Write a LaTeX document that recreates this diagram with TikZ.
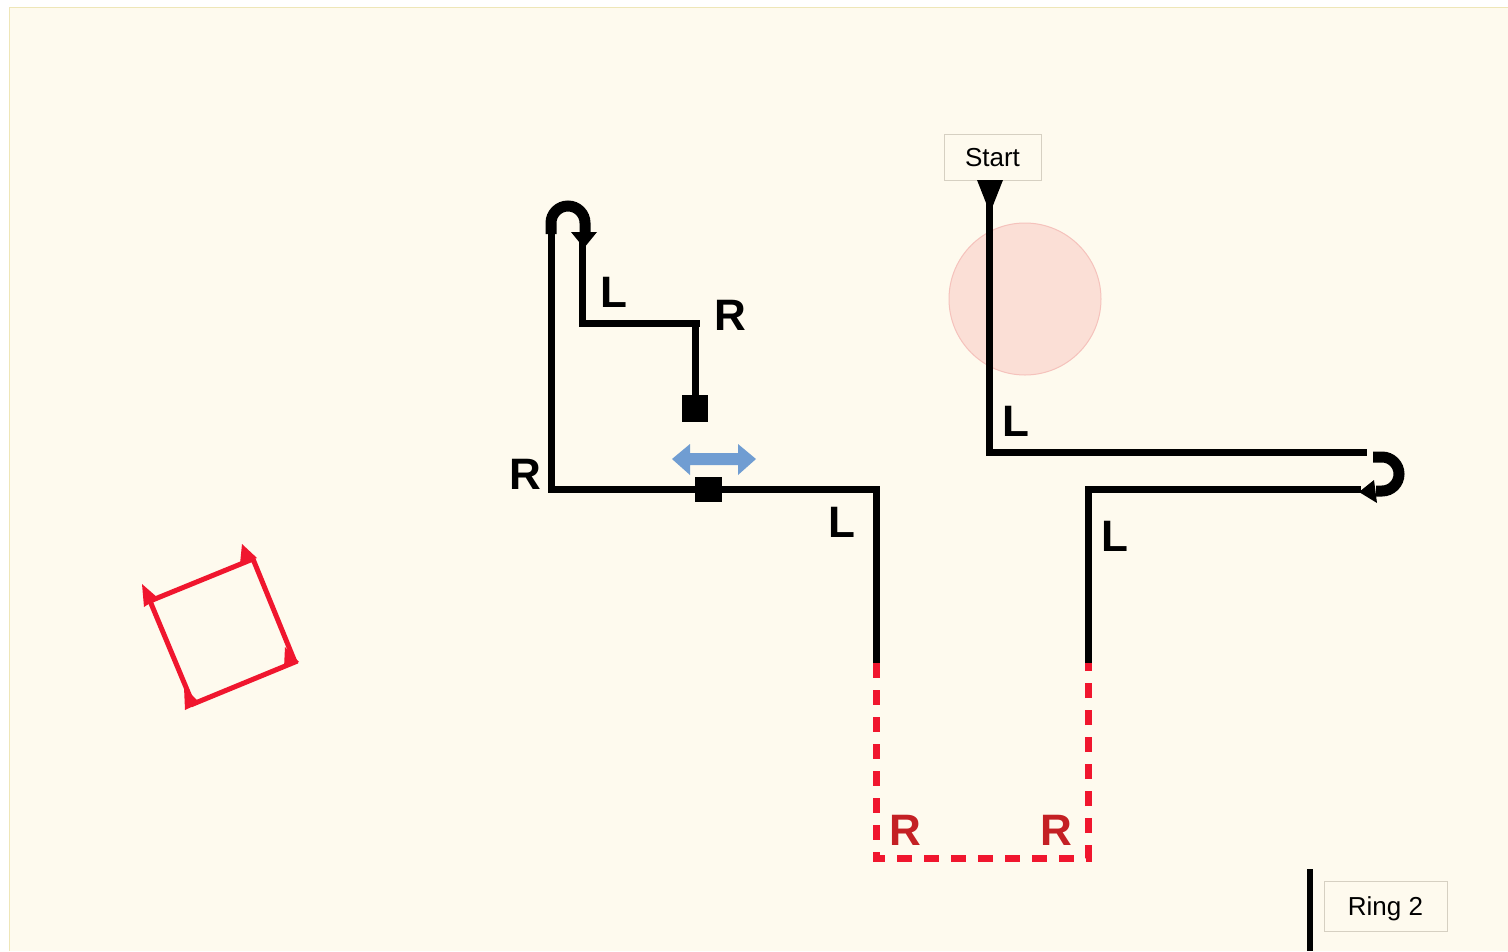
\documentclass[tikz,border=0pt]{standalone}
\usepackage{fontspec}
\setmainfont{Liberation Sans}
\usetikzlibrary{arrows.meta}
\definecolor{paper}{RGB}{254,250,238}
\definecolor{paperedge}{RGB}{238,230,184}
\definecolor{routered}{RGB}{240,22,46}
\definecolor{labelred}{RGB}{196,32,36}
\definecolor{slideblue}{RGB}{112,157,210}
\definecolor{zonefill}{RGB}{251,223,214}
\definecolor{zoneedge}{RGB}{245,194,188}
\definecolor{boxedge}{RGB}{214,208,194}

\begin{document}
\begin{tikzpicture}[x=1pt,y=-1pt,
  track/.style={line width=7pt, black, line join=miter},
  dashtrack/.style={line width=7pt, routered, dash pattern=on 15pt off 12pt},
  uturn/.style={line width=11pt, black},
  turnlbl/.style={font=\fontsize{44}{44}\selectfont\bfseries, inner sep=0pt, text depth=0pt},
  redlbl/.style={turnlbl, text=labelred},
  tagbox/.style={draw=boxedge, line width=1pt, fill=paper, inner sep=0pt,
    font=\fontsize{26}{26}\selectfont, text depth=0pt},
  square/.style={fill=black}
]
\useasboundingbox (0,0) rectangle (1508,951);
\clip (0,0) rectangle (1508,951);

% sheet
\fill[white] (0,0) rectangle (1508,951);
\fill[paper] (9,7) rectangle (1508,951);
\draw[paperedge, line width=1pt] (9,951) -- (9,7) -- (1508,7);

% shaded zone near the start
\draw[zoneedge, fill=zonefill, line width=1pt] (1025,299) circle[radius=76];

% path corners
\coordinate (a1) at (551,226);
\coordinate (a2) at (551,489);
\coordinate (a3) at (876,489);
\coordinate (a4) at (876,663);
\coordinate (b1) at (876,858);
\coordinate (b2) at (1088,858);
\coordinate (b3) at (1088,663);
\coordinate (c1) at (1088,489);
\coordinate (c2) at (1361,489);
\coordinate (s1) at (989,200);
\coordinate (s2) at (989,452);
\coordinate (s3) at (1367,452);
\coordinate (i1) at (582,236);
\coordinate (i2) at (582,323);
\coordinate (i3) at (700,323);
\coordinate (j1) at (695,323);
\coordinate (j2) at (695,400);

% main tracks
\draw[track] (a1) -- (a2) -- (a3) -- (a4);
\draw[dashtrack] (a4) -- (b1) -- (b2) -- (b3);
\draw[track] (b3) -- (c1) -- (c2);
\draw[track] (s1) -- (s2) -- (s3);
\draw[track] (i1) -- (i2) -- (i3);
\draw[track] (j1) -- (j2);

% end blocks
\fill[square] (682,395) rectangle (708,422);
\fill[square] (695,477) rectangle (722,502);

% sliding arrow
\fill[slideblue] (672,459) -- (690,444) -- (690,453) -- (738,453) -- (738,444)
  -- (756,459) -- (738,475) -- (738,465) -- (690,465) -- (690,475) -- cycle;

% u-turn, upper left
\draw[uturn] (551,234) -- (551,223) arc[start angle=180, end angle=360, radius=17] -- (585,233);
\fill (571,232) -- (597,232) -- (584,248) -- cycle;

% u-turn, right
\draw[uturn] (1373,457) -- (1382,457) arc[start angle=-90, end angle=90, radius=17] -- (1376,491);
\fill (1359,492) -- (1374,480) -- (1377,503) -- cycle;

% start
\node[tagbox, minimum width=97, minimum height=46] (startbox) at (992.5,157) {Start};
\fill (977,180) -- (1003,180) -- (990,213) -- cycle;

% ring marker
\draw[line width=6pt] (1310,869) -- (1310,951);
\node[tagbox, minimum width=123, minimum height=50] (ringbox) at (1385.5,906) {Ring 2};

% turn labels
\node[turnlbl] (l1) at (614,292) {L};
\node[turnlbl] (r1) at (730,315) {R};
\node[turnlbl] (r2) at (525,474) {R};
\node[turnlbl] (l2) at (842,522) {L};
\node[turnlbl] (l3) at (1016,421) {L};
\node[turnlbl] (l4) at (1115,536) {L};
\node[redlbl] (r3) at (905,830) {R};
\node[redlbl] (r4) at (1056,830) {R};

% rotated square with corner heads
\draw[routered, line width=5pt, line join=miter] (150,601) -- (253,559) -- (295,662) -- (193,704) -- cycle;
\fill[routered] (142,584) -- (144,607) -- (158,598) -- cycle;
\fill[routered] (242,544) -- (240,564) -- (257,558) -- cycle;
\fill[routered] (184,687) -- (185,710) -- (200,703) -- cycle;
\fill[routered] (285,647) -- (284,668) -- (299,662) -- cycle;
\end{tikzpicture}
\end{document}
